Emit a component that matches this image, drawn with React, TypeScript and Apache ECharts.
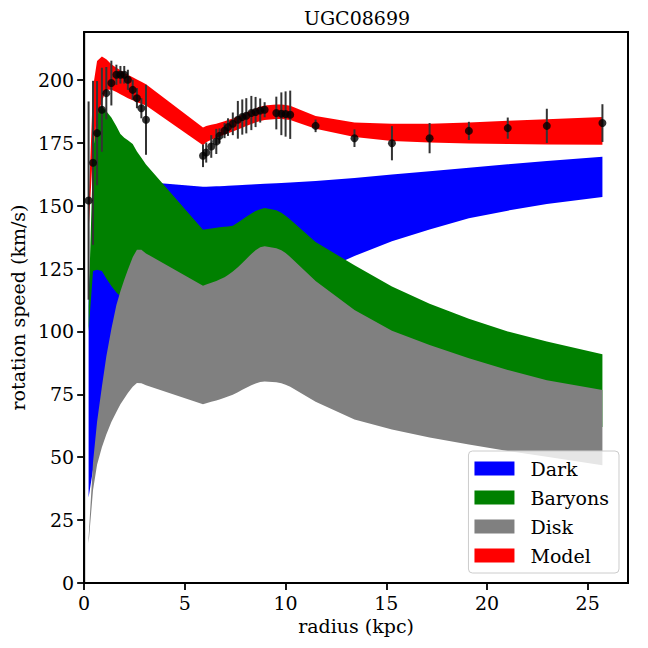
import React, { useEffect, useRef } from "react";
import * as echarts from "echarts";

// observed radii (kpc)
const radii = [
  0.22, 0.44, 0.64, 0.88, 1.1, 1.35, 1.6, 1.8, 1.99, 2.17, 2.41, 2.62, 2.84, 3.07,
  5.9, 6.06, 6.31, 6.56, 6.72, 6.97, 7.14, 7.38, 7.63, 7.85, 8.05, 8.3, 8.51, 8.74, 8.96,
  9.54, 9.79, 10.0, 10.23, 11.49, 13.42, 15.28, 17.15, 19.1, 21.03, 22.97, 25.73,
];
// observed rotation speed (km/s)
const vObs = [
  152, 167, 178.8, 188.1, 194.7, 198.7, 202, 202, 202, 200, 196, 192.7, 188.7, 184.1,
  169.8, 171.1, 173.5, 175.5, 177.7, 179.8, 181.2, 182.5, 184.1, 185.2, 185.7, 186.8, 187.2, 187.8, 188.1,
  186.8, 186.5, 186.4, 186.1, 181.7, 176.8, 174.8, 176.8, 179.7, 180.8, 181.7, 182.8,
];
const vErr = [
  39.4, 32.6, 20.7, 16.7, 10.4, 8.9, 4, 3.5, 3.5, 4, 4, 4, 4, 13.9,
  4.5, 4, 4.5, 5, 3, 3, 3.5, 4.5, 7.5, 7, 7, 6.8, 6, 4.8, 3,
  6.5, 8.5, 9, 9.6, 2.5, 3.5, 6.8, 6, 3.6, 4.2, 6.8, 7.5,
];
// Dark halo band
const darkLo = [
  34, 45, 56, 66, 73, 79, 83, 86, 88, 89.5, 91, 92.5, 93.5, 95,
  105, 105.5, 106.5, 107.5, 108, 109, 109.5, 110.5, 111.5, 112, 113, 113.8, 114.5, 115.2, 116,
  117.5, 118, 118.6, 119.2, 123, 130, 135.8, 140.5, 145, 148, 150.6, 153.4,
];
const darkHi = [
  115, 140, 150, 155, 157, 158.5, 159.3, 159.7, 160, 160, 160, 159.8, 159.6, 159.4,
  157.5, 157.5, 157.6, 157.7, 157.7, 157.8, 157.9, 158, 158.1, 158.2, 158.3, 158.4, 158.5, 158.6, 158.7,
  158.9, 159, 159.1, 159.2, 159.8, 161, 162.4, 163.7, 165, 166.4, 167.7, 169.4,
];
// Baryons band
const baryLo = [
  100, 124, 124.5, 124, 121, 118, 115.5, 114, 113, 112, 111, 110, 109, 108,
  98, 98.3, 99, 99.6, 100, 100.6, 101, 101.8, 103, 104, 105, 106, 106.8, 107.4, 107.8,
  107.5, 107, 106.3, 105.5, 97, 87.5, 80.5, 75, 70.5, 67, 64.5, 62,
];
const baryHi = [
  110, 170, 188.5, 189.5, 187.5, 185, 181.5, 178.5, 177, 176, 174.5, 171.5, 169, 166.3,
  140.4, 140.6, 140.9, 141.2, 141.4, 141.6, 141.7, 142, 143.3, 144.5, 145.6, 146.9, 147.9, 148.6, 149,
  148.2, 147.2, 146, 144.5, 135.5, 126.3, 117.8, 111, 105, 100, 96, 90.9,
];
// Disk band
const diskLo = [
  15.8, 37, 47, 54, 59, 64, 68, 71, 73.3, 75.5, 78, 79.5, 79.4, 78.6,
  71, 71.4, 72, 72.5, 72.9, 73.6, 74.1, 74.8, 75.8, 76.8, 77.6, 78.6, 79.3, 79.9, 80.1,
  79.8, 79.4, 78.8, 78, 72, 65, 61, 57.8, 55, 52.5, 50.2, 46.8,
];
const diskHi = [
  18, 48, 64, 78, 90, 101, 110.5, 116, 120.5, 124.5, 129.5, 132.5, 132.5, 131,
  118.1, 118.6, 119.3, 120, 120.6, 121.5, 122.4, 123.8, 125.5, 127.2, 128.8, 130.8, 132.3, 133.4, 133.8,
  133, 132.3, 131.2, 129.6, 120, 108.5, 100.3, 94.6, 89.3, 84.7, 80.6, 76.7,
];
// Model band
const modelLo = [
  140, 172, 185, 191.5, 196, 196, 195.2, 194.3, 193.5, 192.7, 191.9, 191.1, 190.5, 189.8,
  174, 175.2, 176.2, 177, 177.5, 178.3, 178.8, 179.5, 180.2, 180.9, 181.6, 182.4, 183, 183.6, 184,
  184.4, 184.4, 184.2, 184, 180.5, 177.3, 175.7, 175.1, 174.7, 174.5, 174.3, 174.2,
];
const modelHi = [
  150, 197, 207.5, 209.3, 208.2, 206.2, 204.8, 203.8, 202.8, 202, 201, 200.1, 199.2, 198.2,
  181, 181.6, 182.1, 182.5, 182.9, 183.5, 184, 184.6, 185.4, 186.2, 187, 187.8, 188.6, 189.3, 189.8,
  190.2, 190.2, 190, 189.7, 185.6, 183, 182.5, 182.5, 183, 183.7, 184.3, 185.2,
];

const xTicks = [0, 5, 10, 15, 20, 25];
const yTicks = [0, 25, 50, 75, 100, 125, 150, 175, 200];
const legendNames = ["Dark", "Baryons", "Disk", "Model"];
const legendColors = ["#0000ff", "#008000", "#808080", "#ff0000"];

const FONT = "DejaVu Serif";

function band(name: string, lo: number[], hi: number[], color: string, z: number) {
  return {
    type: "custom",
    name,
    z,
    clip: true,
    silent: true,
    itemStyle: { color },
    data: [[radii[0], lo[0]]],
    renderItem: (_params: any, api: any) => {
      const pts: number[][] = [];
      for (let i = 0; i < radii.length; i++) pts.push(api.coord([radii[i], hi[i]]));
      for (let i = radii.length - 1; i >= 0; i--) pts.push(api.coord([radii[i], lo[i]]));
      return { type: "polygon", shape: { points: pts }, style: { fill: color } };
    },
  };
}

export default function App() {
  const ref = useRef<HTMLDivElement>(null);
  useEffect(() => {
    if (!ref.current) return;
    const chart = echarts.init(ref.current, undefined, { renderer: "svg" });
    const axisCommon = {
      axisLine: { show: true, lineStyle: { color: "#000", width: 2 } },
      splitLine: { show: false },
      nameLocation: "middle",
      nameTextStyle: { fontSize: 19, fontFamily: FONT, color: "#000" },
    };
    chart.setOption({
      animation: false,
      backgroundColor: "#fff",
      title: {
        text: "UGC08699",
        left: 357,
        top: 8,
        padding: 0,
        textAlign: "center",
        textStyle: { fontSize: 19, fontWeight: "normal", fontFamily: FONT, color: "#000" },
      },
      grid: {
        left: 84,
        right: 20,
        top: 32,
        bottom: 65,
        show: true,
        borderColor: "#000",
        borderWidth: 2,
        backgroundColor: "transparent",
      },
      legend: {
        orient: "vertical",
        right: 29,
        bottom: 75,
        z: 20,
        selectedMode: false,
        icon: "rect",
        itemWidth: 40,
        itemHeight: 14,
        itemGap: 10,
        padding: [8, 10, 8, 6],
        backgroundColor: "rgba(255,255,255,0.8)",
        borderColor: "#cccccc",
        borderWidth: 1,
        borderRadius: 4,
        textStyle: { fontSize: 19, fontFamily: FONT, color: "#000", padding: [0, 0, 0, 11] },
        data: legendNames.map((n, i) => ({ name: n, itemStyle: { color: legendColors[i] } })),
      },
      xAxis: {
        ...axisCommon,
        type: "value",
        min: 0,
        max: 27,
        name: "radius (kpc)",
        nameGap: 32,
        axisTick: { show: true, length: 7, lineStyle: { color: "#000", width: 1.8 }, customValues: xTicks },
        axisLabel: { fontSize: 19, fontFamily: FONT, color: "#000", margin: 10, customValues: xTicks },
      },
      yAxis: {
        ...axisCommon,
        type: "value",
        min: 0,
        max: 219,
        name: "rotation speed (km/s)",
        nameGap: 52,
        axisTick: { show: true, length: 7, lineStyle: { color: "#000", width: 1.8 }, customValues: yTicks },
        axisLabel: { fontSize: 19, fontFamily: FONT, color: "#000", margin: 10, customValues: yTicks },
      },
      series: [
        band(legendNames[0], darkLo, darkHi, legendColors[0], 2),
        band(legendNames[1], baryLo, baryHi, legendColors[1], 3),
        band(legendNames[2], diskLo, diskHi, legendColors[2], 4),
        band(legendNames[3], modelLo, modelHi, legendColors[3], 5),
        {
          type: "custom",
          name: "errors",
          z: 6,
          silent: true,
          data: radii.map((r, i) => [r, vObs[i] - vErr[i], vObs[i] + vErr[i]]),
          encode: { x: 0, y: [1, 2] },
          renderItem: (_p: any, api: any) => {
            const a = api.coord([api.value(0), api.value(1)]);
            const b = api.coord([api.value(0), api.value(2)]);
            return {
              type: "line",
              shape: { x1: a[0], y1: a[1], x2: b[0], y2: b[1] },
              style: { stroke: "#333333", lineWidth: 2 },
            };
          },
        },
        {
          type: "scatter",
          name: "data",
          z: 7,
          silent: true,
          symbol: "circle",
          symbolSize: 8,
          itemStyle: { color: "#000" },
          data: radii.map((r, i) => [r, vObs[i]]),
        },
      ],
    });
    return () => chart.dispose();
  }, []);
  return <div ref={ref} style={{ position: "fixed", left: 0, top: 0, width: 648, height: 648 }} />;
}
